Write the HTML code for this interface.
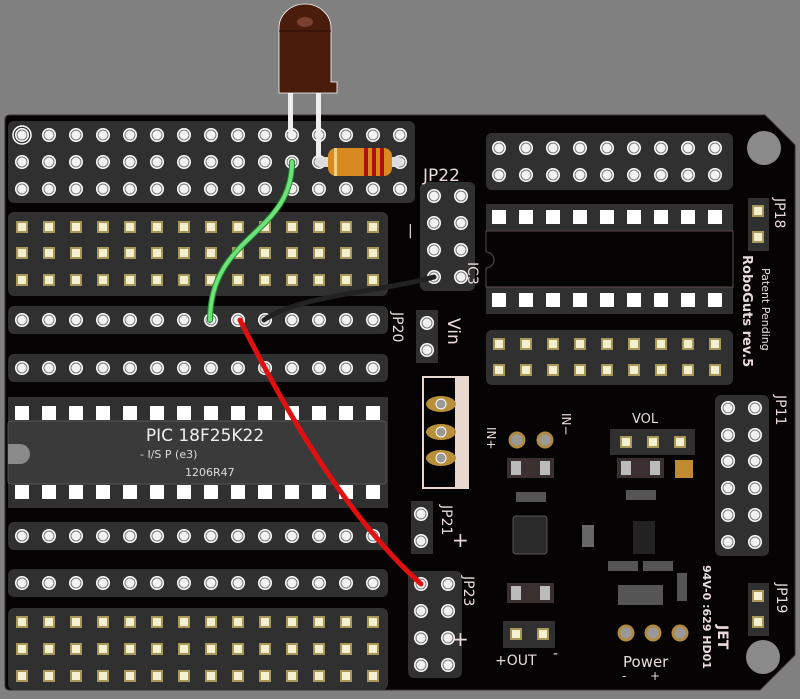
<!DOCTYPE html>
<html><head><meta charset="utf-8">
<style>
html,body{margin:0;padding:0;background:#808080;}
svg{display:block;}
text{font-family:"DejaVu Sans","Liberation Sans",sans-serif;fill:#eadada;}
</style></head>
<body>
<svg id="s" width="800" height="699" viewBox="0 0 800 699" xmlns="http://www.w3.org/2000/svg">
<rect width="800" height="699" fill="#808080"/>
<!-- board -->
<path d="M5 120 Q5 115 10 115 L765 115 L795 145 L795 655 L760 690 L10 690 Q5 690 5 685 Z" fill="#050303" stroke="#3a3030" stroke-width="1"/>
<g id="strips" fill="#303030">
<rect x="8" y="121" width="407" height="82" rx="6"/>
<rect x="8" y="212" width="380" height="84" rx="6"/>
<rect x="8" y="306" width="380" height="28" rx="6"/>
<rect x="8" y="354" width="380" height="28" rx="6"/>
<rect x="8" y="397" width="380" height="111"/>
<rect x="8" y="522" width="380" height="28" rx="6"/>
<rect x="8" y="569" width="380" height="28" rx="6"/>
<rect x="8" y="608" width="380" height="82" rx="6"/>
<rect x="486" y="133" width="247" height="57" rx="6"/>
<rect x="486" y="204" width="247" height="27"/>
<rect x="486" y="287" width="247" height="27"/>
<rect x="486" y="330" width="247" height="55" rx="6"/>
<rect x="420" y="182" width="55" height="109" rx="6"/>
<rect x="416" y="310" width="22" height="53"/>
<rect x="715" y="395" width="54" height="161" rx="6"/>
<rect x="411" y="501" width="22" height="53"/>
<rect x="408" y="571" width="54" height="107" rx="6"/>
<rect x="748" y="583" width="21" height="53"/>
<rect x="748" y="198" width="21" height="53"/>
<rect x="610" y="429" width="85" height="26"/>
<rect x="503" y="621" width="52" height="27"/>
</g>
<!-- IC3 outline -->
<path d="M486 231 L733 231 L733 287 L486 287 L486 268 A8 8 0 0 0 486 252 Z" fill="none" stroke="#5a4a4a" stroke-width="1"/>
<!-- PIC body -->
<rect x="8" y="421" width="378" height="63" rx="3" fill="#3a3a3a" stroke="#555"/>
<path d="M8 444 L20 444 A10 10 0 0 1 20 464 L8 464 Z" fill="#8a8a8a"/>
<text x="205" y="441" font-size="17" text-anchor="middle" style="fill:#f0f0f0">PIC 18F25K22</text>
<text x="140" y="458" font-size="11" style="fill:#ddd">- I/S P (e3)</text>
<text x="185" y="476" font-size="11" style="fill:#ddd">1206R47</text>
<g id="parts"></g>
<!-- switch component -->
<path d="M423 377 L468 377 L468 488 L423 488 Z" fill="none" stroke="#e8d8d0" stroke-width="2"/>
<rect x="455" y="377" width="14" height="110" fill="#e8d8d0"/>
<g fill="#b8903a"><ellipse cx="441" cy="404" rx="15" ry="8"/><ellipse cx="441" cy="432" rx="15" ry="8"/><ellipse cx="441" cy="458" rx="15" ry="8"/></g>
<g fill="#999" stroke="#fff"><circle cx="441" cy="404" r="5"/><circle cx="441" cy="432" r="5"/><circle cx="441" cy="458" r="5"/></g>
<!-- smd parts -->
<g fill="#bbb">
<rect x="507" y="458" width="47" height="20" fill="#3a3030"/><rect x="511" y="461" width="10" height="14"/><rect x="540" y="461" width="10" height="14"/>
<rect x="617" y="458" width="47" height="20" fill="#3a3030"/><rect x="621" y="461" width="10" height="14"/><rect x="650" y="461" width="10" height="14"/>
<rect x="507" y="583" width="47" height="20" fill="#3a3030"/><rect x="511" y="586" width="10" height="14"/><rect x="540" y="586" width="10" height="14"/>
<rect x="516" y="492" width="30" height="10" fill="#555"/><rect x="626" y="490" width="30" height="10" fill="#555"/>
<rect x="608" y="561" width="30" height="10" fill="#555"/><rect x="643" y="561" width="30" height="10" fill="#555"/>
<rect x="618" y="585" width="45" height="20" fill="#555"/><rect x="677" y="573" width="10" height="28" fill="#555"/>
<rect x="582" y="525" width="12" height="22" fill="#666"/>
</g>
<rect x="513" y="516" width="34" height="38" rx="3" fill="#2a2a2a" stroke="#555"/>
<rect x="633" y="521" width="22" height="33" fill="#222"/>
<rect x="675" y="460" width="18" height="18" fill="#c08a30"/>
<g fill="#999" stroke="#b08a40" stroke-width="3">
<circle cx="517" cy="440" r="7"/><circle cx="545" cy="440" r="7"/>
<circle cx="626" cy="633" r="7"/><circle cx="653" cy="633" r="7"/><circle cx="680" cy="633" r="7"/>
</g>
<!-- mounting holes -->
<circle cx="764" cy="148" r="17" fill="#8a8a8a"/>
<circle cx="763" cy="657" r="17" fill="#8a8a8a"/>
<!-- labels -->
<text x="423" y="181" font-size="17">JP22</text>
<text x="408" y="235" font-size="14">|</text>
<text font-size="17" transform="translate(448,318) rotate(90)">Vin</text>
<text font-size="14" transform="translate(393,312) rotate(90)">JP20</text>
<text font-size="14" transform="translate(468,262) rotate(90)">IC3</text>
<text font-size="13" font-weight="bold" transform="translate(743,255) rotate(90)">RoboGuts rev.5</text>
<text font-size="11" transform="translate(762,268) rotate(90)">Patent Pending</text>
<text font-size="14" transform="translate(775,198) rotate(90)">JP18</text>
<text font-size="14" transform="translate(776,395) rotate(90)">JP11</text>
<text font-size="14" transform="translate(442,505) rotate(90)">JP21</text>
<text font-size="14" transform="translate(464,576) rotate(90)">JP23</text>
<text font-size="14" transform="translate(777,583) rotate(90)">JP19</text>
<text font-size="20" x="452" y="547">+</text>
<text font-size="20" x="452" y="646">+</text>
<text font-size="12" transform="translate(487,427) rotate(90)">IN+</text>
<text font-size="12" transform="translate(562,413) rotate(90)">IN−</text>
<text font-size="13" x="632" y="423">VOL</text>
<text font-size="14" x="495" y="665">+OUT</text>
<text font-size="14" x="553" y="658">-</text>
<text font-size="15" x="623" y="667">Power</text>
<text font-size="12" x="622" y="680">-</text>
<text font-size="12" x="650" y="680">+</text>
<text font-size="11" font-weight="bold" transform="translate(703,565) rotate(90)">94V-0 :629 HD01</text>
<text font-size="14" font-weight="bold" transform="translate(718,625) rotate(90)">JET</text>
<circle cx="22" cy="135" r="9" fill="none" stroke="#fff" stroke-width="1.5"/>
<!-- LED -->
<rect x="288" y="90" width="5" height="42" fill="#eee"/>
<rect x="316" y="90" width="5" height="70" fill="#eee"/>
<path d="M279 93 L279 28 A26 24 0 0 1 331 28 L331 82 L337 82 L337 93 Z" fill="#4a1c0c" stroke="#fff" stroke-width="0.8"/>
<line x1="279" y1="31" x2="331" y2="31" stroke="#2a0c04"/>
<ellipse cx="305" cy="22" rx="8" ry="5" fill="#7a4030"/>
<!-- resistor -->
<rect x="315" y="157" width="88" height="10" rx="5" fill="#ddd"/>
<rect x="328" y="148" width="64" height="28" rx="8" fill="#d88a20"/>
<rect x="334" y="148" width="3" height="28" fill="#f2d080"/>
<rect x="364" y="148" width="4" height="28" fill="#b01010"/><rect x="372" y="148" width="4" height="28" fill="#b01010"/><rect x="380" y="148" width="4" height="28" fill="#b01010"/>
<!-- wires -->
<path d="M292 162 C292 235 210 235 210 320" fill="none" stroke="#1f8a2c" stroke-width="6" stroke-linecap="round"/>
<path d="M292 162 C292 235 210 235 210 320" fill="none" stroke="#6fe07a" stroke-width="4" stroke-linecap="round"/>
<path d="M264 320 C300 295 380 292 434 277" fill="none" stroke="#222" stroke-width="5" stroke-linecap="round"/>
<path d="M240 320 C290 420 350 520 421 584" fill="none" stroke="#e01010" stroke-width="5" stroke-linecap="round"/>
</svg>
<script>
var NS="http://www.w3.org/2000/svg",g=document.getElementById("parts");
function el(t,a){var e=document.createElementNS(NS,t);for(var k in a)e.setAttribute(k,a[k]);g.appendChild(e);}
function rh(x,y){el("circle",{cx:x,cy:y,r:7,fill:"#fff"});el("circle",{cx:x,cy:y,r:5,fill:"#f2f2f2",stroke:"#777","stroke-width":1});}
function sq(x,y){el("rect",{x:x-6,y:y-6,width:12,height:12,fill:"#a8985a"});el("rect",{x:x-4,y:y-4,width:8,height:8,fill:"#f5f0d2"});}
function ws(x,y){el("rect",{x:x-7,y:y-7,width:14,height:14,fill:"#fff"});}
function row(f,x0,n,y,p){p=p||27;for(var i=0;i<n;i++)f(x0+i*p,y);}
[135,162,189].forEach(function(y){row(rh,22,15,y);});
[227,253,280].forEach(function(y){row(sq,22,14,y);});
row(rh,22,14,320);row(rh,22,14,368);
row(ws,22,14,413);row(ws,22,14,492);
row(rh,22,14,536);row(rh,22,14,583);
[622,649,676].forEach(function(y){row(sq,22,14,y);});
row(rh,499,9,148);row(rh,499,9,175);
row(ws,499,9,217);row(ws,499,9,300);
row(sq,499,9,344);row(sq,499,9,370);
[196,223,250,277].forEach(function(y){rh(434,y);rh(461,y);});
rh(427,323);rh(427,350);
[408,435,461,488,515,542].forEach(function(y){rh(728,y);rh(755,y);});
rh(421,514);rh(421,541);
[584,611,638,665].forEach(function(y){rh(421,y);rh(448,y);});
sq(758,596);sq(758,622);sq(758,211);sq(758,237);
sq(626,442);sq(653,442);sq(680,442);
sq(516,634);sq(543,634);
</script>
</body></html>
